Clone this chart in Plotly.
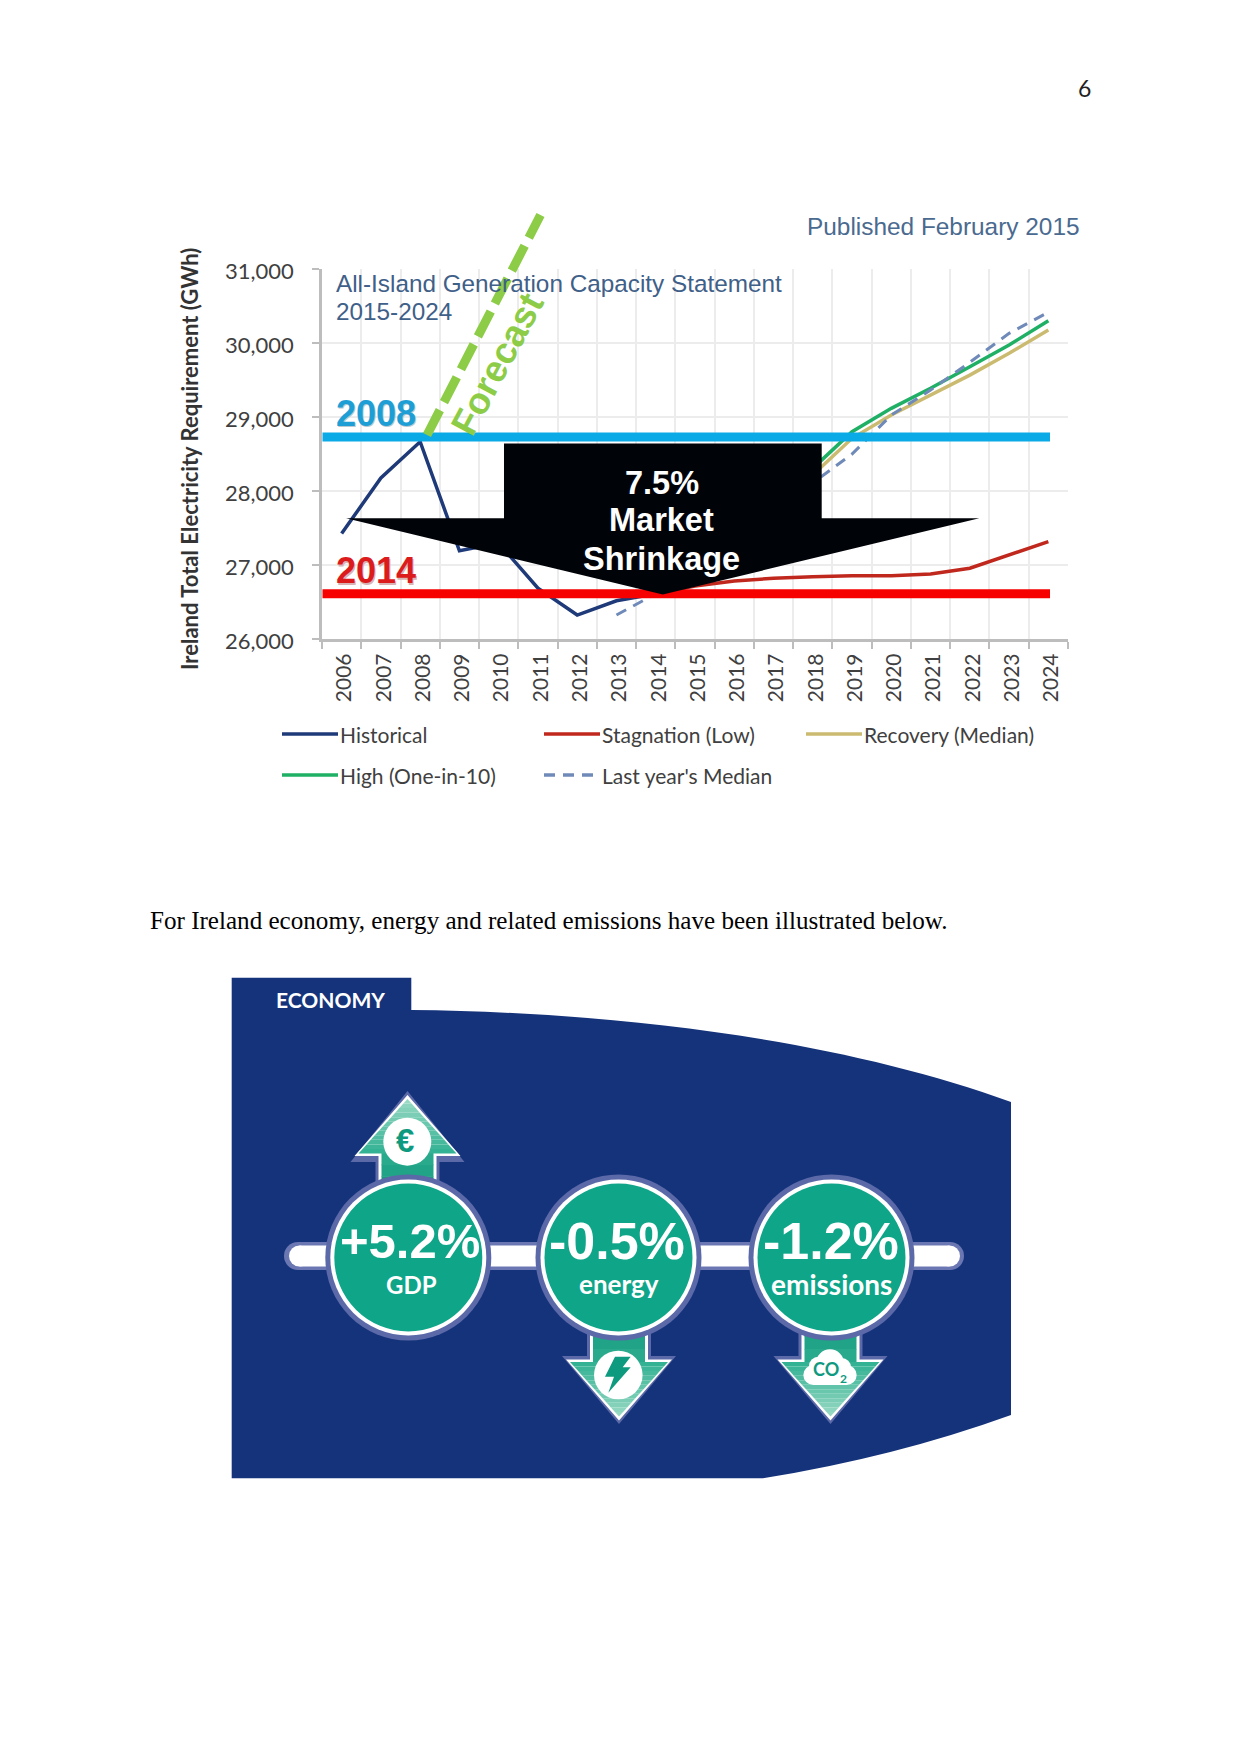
import plotly.graph_objects as go

W, H = 1241, 1754
years = [str(y) for y in range(2006, 2025)]
historical_years = years[:9]
historical = [27430, 28180, 28670, 27197, 27300, 26690, 26328, 26520, 26616]
forecast_years = years[8:]
low = [26616, 26720, 26788, 26824, 26846, 26860, 26860, 26882, 26960, 27139, 27320]
median = [26616, 26850, 27150, 27650, 28220, 28716, 29031, 29301, 29570, 29865, 30180]
high = [26616, 26900, 27250, 27750, 28310, 28805, 29121, 29392, 29684, 29977, 30306]
last_years = years[7:]
last_median = [26328, 26616, 26950, 27300, 27700, 28112, 28504, 29030, 29368, 29743, 30135, 30420]
level_2008 = 28734
level_2014 = 26616
y_ticks = [26000, 27000, 28000, 29000, 30000, 31000]
legend_rows = [("Historical", "#1f3a78", None, 282, 734), ("Stagnation (Low)", "#c0281e", None, 544, 734),
               ("Recovery (Median)", "#cbbb70", None, 806, 734), ("High (One-in-10)", "#1fb065", None, 282, 775),
               ("Last year's Median", "#6f8ab8", "11px,8px", 544, 775)]
economy_big = ["+5.2%", "-0.5%", "-1.2%"]
economy_small = ["GDP", "energy", "emissions"]

def X(x): return x / W
def Y(y): return 1 - y / H
def pt(x, y): return f"{X(x):.5f},{Y(y):.5f}"
def poly(points): return "M" + " L".join(pt(*p) for p in points) + " Z"

shapes, ann = [], []
def add_path(d, fill, line=None, lw=0):
    shapes.append(dict(type="path", xref="paper", yref="paper", path=d, fillcolor=fill,
                       line=dict(color=line or fill, width=lw), layer="above"))
def add_circle(cx, cy, r, fill):
    shapes.append(dict(type="circle", xref="paper", yref="paper", x0=X(cx-r), x1=X(cx+r), y0=Y(cy+r), y1=Y(cy-r),
                       fillcolor=fill, line=dict(width=0), layer="above"))
def add_rect(x0, y0, x1, y1, fill):
    shapes.append(dict(type="rect", xref="paper", yref="paper", x0=X(x0), x1=X(x1), y0=Y(y1), y1=Y(y0),
                       fillcolor=fill, line=dict(width=0), layer="above"))
def text(s, x, y, size, color, family="Liberation Sans", bold=False, xanchor="center", angle=0):
    ann.append(dict(text=f"<b>{s}</b>" if bold else s, x=X(x), y=Y(y), xref="paper", yref="paper", showarrow=False,
                    xanchor=xanchor, yanchor="middle", textangle=angle, align="left",
                    font=dict(size=size, color=color, family=family), borderpad=0, borderwidth=0))

fig = go.Figure()
fig.add_trace(go.Scatter(x=historical_years, y=historical, mode="lines", line=dict(color="#1f3a78", width=3.5), showlegend=False))
fig.add_trace(go.Scatter(x=forecast_years, y=low, mode="lines", line=dict(color="#c0281e", width=3.5), showlegend=False))
fig.add_trace(go.Scatter(x=forecast_years, y=median, mode="lines", line=dict(color="#cbbb70", width=3.5), showlegend=False))
fig.add_trace(go.Scatter(x=forecast_years, y=high, mode="lines", line=dict(color="#1fb065", width=3.5), showlegend=False))
fig.add_trace(go.Scatter(x=last_years, y=last_median, mode="lines", line=dict(color="#6f8ab8", width=3, dash="11px,8px"), showlegend=False))

# level bars
for lvl, col in ((level_2008, "#0aaae6"), (level_2014, "#f60000")):
    shapes.append(dict(type="line", xref="paper", yref="y", x0=X(322.5), x1=X(1050), y0=lvl, y1=lvl,
                       line=dict(color=col, width=9), layer="above"))
# black arrow
add_path(poly([(504, 443.5), (821.7, 443.5), (821.7, 518.3), (979.3, 518.3), (662.8, 594.5), (346, 518.3), (504, 518.3)]), "#000308")
# forecast dashed
shapes.append(dict(type="line", xref="paper", yref="paper", x0=X(427), y0=Y(435), x1=X(540.5), y1=Y(215),
                   line=dict(color="#8ccc46", width=9, dash="28px,9px"), layer="above"))

text("Published February 2015", 1080, 226, 24.4, "#4a6a90", xanchor="right")
text("All-Island Generation Capacity Statement", 335.5, 283, 24.3, "#3f6088", xanchor="left")
text("2015-2024", 335.5, 311.5, 24.3, "#3f6088", xanchor="left")
text("2008", 337, 415, 36, "#b9c9d2", bold=True, xanchor="left")
text("2008", 335.5, 413, 36, "#1d9fd6", bold=True, xanchor="left")
text("2014", 337, 572, 36, "#d8b4b4", bold=True, xanchor="left")
text("2014", 335.5, 570, 36, "#dc1c1c", bold=True, xanchor="left")
text("Forecast", 497, 364, 37, "#8ccc46", bold=True, angle=-62)
text("7.5%", 661.5, 483, 32.5, "white", bold=True)
text("Market", 661.5, 520, 32.5, "white", bold=True)
text("Shrinkage", 661.5, 559, 32.5, "white", bold=True)
text("Ireland Total Electricity Requirement (GWh)", 190, 459, 22, "#333333", family="Lato", bold=True, angle=-90)

for name, col, dash, lx, ly in legend_rows:
    shapes.append(dict(type="line", xref="paper", yref="paper", x0=X(lx), x1=X(lx+56), y0=Y(ly), y1=Y(ly),
                       line=dict(color=col, width=3.5, dash=dash or "solid"), layer="above"))
    text(name, lx+58, ly, 21, "#404040", family="Lato", xanchor="left")

# page text
text("6", 1084, 88, 23, "#222222", family="Lato")
text("For Ireland economy, energy and related emissions have been illustrated below.", 150, 920, 25.1, "#000000", family="Liberation Serif", xanchor="left")

# economy panel
NAVY = "#15337b"; TEAL = "#0fa589"; HALO = "#5c69a8"
panel = ("M" + pt(231.7, 977.7) + " L" + pt(411.3, 977.7) + " L" + pt(411.3, 1010)
         + " C" + pt(620, 1012) + " " + pt(840, 1040) + " " + pt(1011, 1102)
         + " L" + pt(1011, 1415) + " Q" + pt(895, 1457) + " " + pt(763, 1478.3)
         + " L" + pt(231.7, 1478.3) + " Z")
add_path(panel, NAVY)
text("ECONOMY", 330.5, 999, 21, "white", family="Lato", bold=True)

def pill(x0, x1, cy, h, fill):
    r = h / 2
    add_rect(x0 + r, cy - r, x1 - r, cy + r, fill)
    add_circle(x0 + r, cy, r, fill)
    add_circle(x1 - r, cy, r, fill)
pill(284, 964, 1256, 28, "#6b77b2")
pill(289, 960, 1256, 21, "white")

def arrow_poly(cx, base, head, tip, hw, sw):
    return poly([(cx - sw, base), (cx - sw, head), (cx - hw, head), (cx, tip), (cx + hw, head), (cx + sw, head), (cx + sw, base)])

def mix(a, b, t):
    return "#" + "".join(f"{round(a[i] + (b[i] - a[i]) * t):02x}" for i in range(3))

def gradient_arrow(cx, base, head, tip, hw, sw):
    s = 1 if tip > base else -1  # direction of pointing, in page pixels
    n = 4
    for i in range(n):
        a = base + (head - base) * i / n
        b = base + (head - base) * (i + 1) / n + s * 0.6
        add_path(poly([(cx - sw, a), (cx + sw, a), (cx + sw, b), (cx - sw, b)]), mix((11, 149, 119), (42, 170, 141), i / (n - 1)))
    n = 12
    for i in range(n):
        f0, f1 = i / n, (i + 1) / n
        a = head + (tip - head) * f0
        b = head + (tip - head) * f1
        h0, h1 = hw * (1 - f0), hw * (1 - f1)
        add_path(poly([(cx - h0, a), (cx + h0, a), (cx + h1, b), (cx - h1, b)]), mix((52, 178, 148), (150, 216, 194), i / (n - 1)))

centers = [(408.3, 1257.5), (618.5, 1257.5), (831.5, 1257.5)]
arrows = [(407.5, 1200, 1162, 1156, 1153.5, 1091, 1095, 1099, -1),
          (619, 1310, 1356, 1359.5, 1362, 1424, 1420.5, 1416.5, 1),
          (830.5, 1310, 1356, 1359.5, 1362, 1424, 1420.5, 1416.5, 1)]
for cx, base, hh, hw_, ht, t1, t2, t3, sgn in arrows:
    add_path(arrow_poly(cx, base, hh, t1, 57, 32), HALO)
    add_path(arrow_poly(cx, base, hw_, t2, 53, 29), "white")
    gradient_arrow(cx, base, ht, t3, 49, 26)
for cx, cy in centers:
    add_circle(cx, cy, 83, HALO)
    add_circle(cx, cy, 78, "white")
    add_circle(cx, cy, 74, TEAL)
big_dx = [2, -2, -1]; small_dx = [3, 0, 0]; big_sz = [49, 52, 52]; small_sz = [24, 26, 28]
for i, ((cx, cy), big, small) in enumerate(zip(centers, economy_big, economy_small)):
    text(big, cx + big_dx[i], 1241, big_sz[i], "white", bold=True)
    text(small, cx + small_dx[i], 1284, small_sz[i], "white", family="Lato", bold=True)

# icons
ICON = "#0e9a7f"
add_circle(407.3, 1141.7, 24, "white")
text("€", 405.5, 1140.5, 33, ICON, bold=True)
add_circle(618.3, 1375, 24.3, "white")
bolt = [(225, 140), (272, 140), (248, 172), (272, 172), (205, 248), (222, 200), (195, 200)]
add_path(poly([(540 + a / 3, 1310 + b / 3) for a, b in bolt]), ICON)
for a, b, r in ((240, 160, 42), (190, 195, 30), (290, 195, 30), (205, 168, 28), (275, 172, 28)):
    add_circle(750 + a / 3, 1310 + b / 3, r / 3, "white")
add_rect(750 + 190 / 3, 1310 + 175 / 3, 750 + 290 / 3, 1310 + 225 / 3, "white")
text("CO", 825.5, 1369, 18, ICON, family="Lato", bold=True)
text("2", 843.5, 1378, 12, ICON, family="Lato", bold=True)

fig.update_layout(
    width=W, height=H, margin=dict(l=0, r=0, t=0, b=0, autoexpand=False), paper_bgcolor="white", plot_bgcolor="white",
    shapes=shapes, annotations=ann, showlegend=False,
    xaxis=dict(domain=[X(322), X(1068)], type="category", categoryorder="array", categoryarray=years,
               tickmode="array", tickvals=years, ticktext=years, range=[-0.5, 18.5],
               tickson="boundaries", showgrid=True, gridcolor="#ececec", gridwidth=1.5,
               ticks="outside", ticklen=7, tickcolor="#bdbdbd", tickwidth=1.5,
               showline=True, linecolor="#bdbdbd", linewidth=2.5, tickangle=-90, ticklabelstandoff=3, ticklabelshift=3,
               tickfont=dict(family="Lato", size=21, color="#404040"), fixedrange=True, zeroline=False),
    yaxis=dict(domain=[Y(639.3), Y(269.3)], range=[26000, 31000], tickmode="array", tickvals=y_ticks,
               tickformat=",", showgrid=True, gridcolor="#ececec", gridwidth=1.5,
               ticks="outside", ticklen=7, tickcolor="#bdbdbd", tickwidth=1.5, ticklabelstandoff=14, ticklabelshift=2,
               showline=True, linecolor="#bdbdbd", linewidth=2.5,
               tickfont=dict(family="Lato", size=22, color="#404040"), fixedrange=True, zeroline=False),
)
fig.write_html("out.html", config=dict(displayModeBar=False),
               post_script="document.body.style.margin='0';")
